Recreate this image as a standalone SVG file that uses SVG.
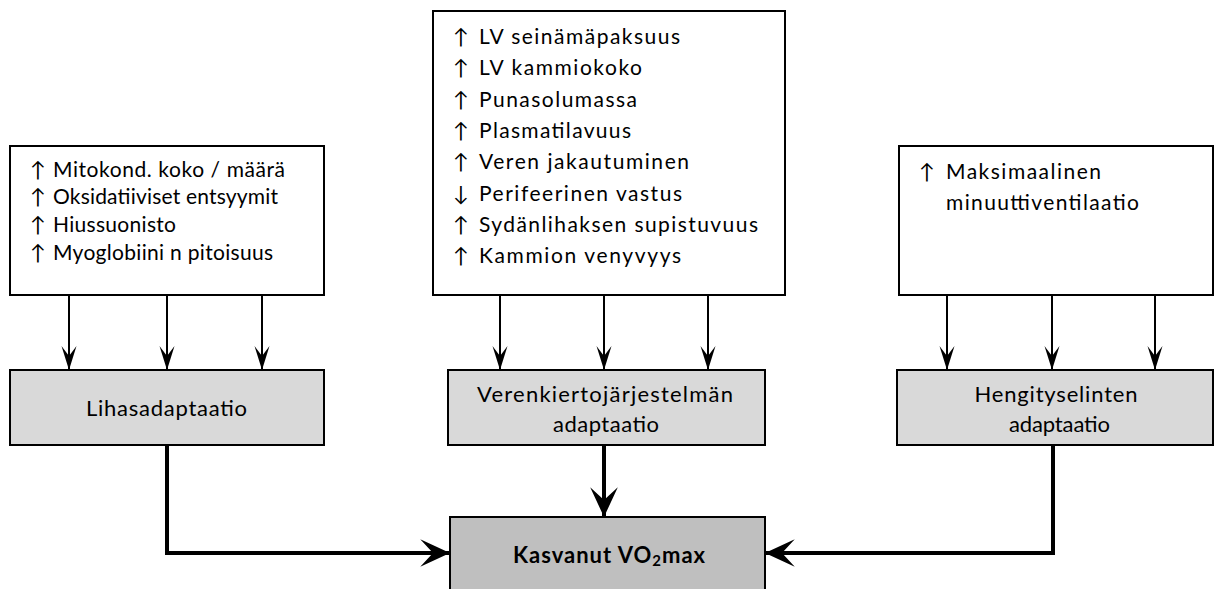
<svg xmlns="http://www.w3.org/2000/svg" width="1214" height="589" viewBox="0 0 1214 589">
<style>
.box{fill:#ffffff;stroke:#000;stroke-width:2}
.g1{fill:#d9d9d9;stroke:#000;stroke-width:2}
.g2{fill:#bfbfbf;stroke:#000;stroke-width:2}
text{font-family:Lato,"Liberation Sans",sans-serif;font-size:21px;fill:#000}
.gt{font-size:22px;text-anchor:middle}
.b{font-weight:bold;font-size:22px;letter-spacing:1px}
.thin{stroke:#000;stroke-width:2;fill:none;marker-end:url(#ah)}
.thick{stroke:#000;stroke-width:4;fill:none;marker-end:url(#ahb)}
</style>
<defs>
<marker id="ah" markerUnits="userSpaceOnUse" markerWidth="30" markerHeight="20" viewBox="-26 -10 28 20" refX="0" refY="0" orient="auto">
<path d="M0,0 L-24,-7.5 L-14,0 L-24,7.5 Z" fill="#000"/>
</marker>
<marker id="ahb" markerUnits="userSpaceOnUse" markerWidth="34" markerHeight="32" viewBox="-30 -15 32 30" refX="0" refY="0" orient="auto">
<path d="M0,0 L-28,-13 L-16,0 L-28,13 Z" fill="#000"/>
</marker>
</defs>

<g id="connectors">
<line class="thin" x1="69" y1="295" x2="69" y2="370"/>
<line class="thin" x1="167" y1="295" x2="167" y2="370"/>
<line class="thin" x1="262" y1="295" x2="262" y2="370"/>
<line class="thin" x1="500" y1="295" x2="500" y2="370"/>
<line class="thin" x1="604" y1="295" x2="604" y2="370"/>
<line class="thin" x1="708" y1="295" x2="708" y2="370"/>
<line class="thin" x1="947" y1="295" x2="947" y2="370"/>
<line class="thin" x1="1052" y1="295" x2="1052" y2="370"/>
<line class="thin" x1="1155" y1="295" x2="1155" y2="370"/>
<polyline class="thick" points="167,445 167,553 450,553"/>
<line class="thick" x1="604" y1="445" x2="604" y2="517"/>
<polyline class="thick" points="1053,445 1053,553 765,553"/>
</g>

<g id="muscle-factors">
<rect class="box" x="10" y="146" width="314" height="149"/>
<text x="30" y="177">↑</text><text x="53" y="177" textLength="232" lengthAdjust="spacing">Mitokond. koko / määrä</text>
<text x="30" y="204">↑</text><text x="53" y="204" textLength="225" lengthAdjust="spacing">Oksidatiiviset entsyymit</text>
<text x="30" y="232">↑</text><text x="53" y="232" textLength="123" lengthAdjust="spacing">Hiussuonisto</text>
<text x="30" y="260">↑</text><text x="53" y="260" textLength="220" lengthAdjust="spacing">Myoglobiini n pitoisuus</text>
</g>

<g id="circulation-factors">
<rect class="box" x="433" y="11" width="352" height="284"/>
<text x="453" y="44">↑</text><text x="479" y="44" textLength="201" lengthAdjust="spacing">LV seinämäpaksuus</text>
<text x="453" y="75.3">↑</text><text x="479" y="75.3" textLength="163" lengthAdjust="spacing">LV kammiokoko</text>
<text x="453" y="106.6">↑</text><text x="479" y="106.6" textLength="158" lengthAdjust="spacing">Punasolumassa</text>
<text x="453" y="137.9">↑</text><text x="479" y="137.9" textLength="152" lengthAdjust="spacing">Plasmatilavuus</text>
<text x="453" y="169.2">↑</text><text x="479" y="169.2" textLength="210" lengthAdjust="spacing">Veren jakautuminen</text>
<text x="453" y="200.5">↓</text><text x="479" y="200.5" textLength="203" lengthAdjust="spacing">Perifeerinen vastus</text>
<text x="453" y="231.8">↑</text><text x="479" y="231.8" textLength="279" lengthAdjust="spacing">Sydänlihaksen supistuvuus</text>
<text x="453" y="263.1">↑</text><text x="479" y="263.1" textLength="202" lengthAdjust="spacing">Kammion venyvyys</text>
</g>

<g id="respiration-factors">
<rect class="box" x="899" y="146" width="314" height="149"/>
<text x="919" y="179">↑</text><text x="946" y="179" textLength="155" lengthAdjust="spacing">Maksimaalinen</text>
<text x="946" y="210" textLength="193" lengthAdjust="spacing">minuuttiventilaatio</text>
</g>

<g id="lihas">
<rect class="g1" x="10" y="370" width="314" height="75"/>
<text class="gt" x="166.5" y="416" textLength="161" lengthAdjust="spacing">Lihasadaptaatio</text>
</g>

<g id="verenkierto">
<rect class="g1" x="448" y="370" width="317" height="75"/>
<text class="gt" x="605" y="402" textLength="256" lengthAdjust="spacing">Verenkiertojärjestelmän</text>
<text class="gt" x="606" y="432" textLength="106" lengthAdjust="spacing">adaptaatio</text>
</g>

<g id="hengitys">
<rect class="g1" x="897" y="370" width="316" height="75"/>
<text class="gt" x="1056" y="402" textLength="163" lengthAdjust="spacing">Hengityselinten</text>
<text class="gt" x="1059.5" y="432" textLength="101" lengthAdjust="spacing">adaptaatio</text>
</g>

<g id="vo2max">
<rect class="g2" x="450" y="517" width="315" height="80"/>
<text class="b" x="513" y="563">Kasvanut VO<tspan font-size="15" dy="3">2</tspan><tspan dy="-3">max</tspan></text>
</g>
</svg>
